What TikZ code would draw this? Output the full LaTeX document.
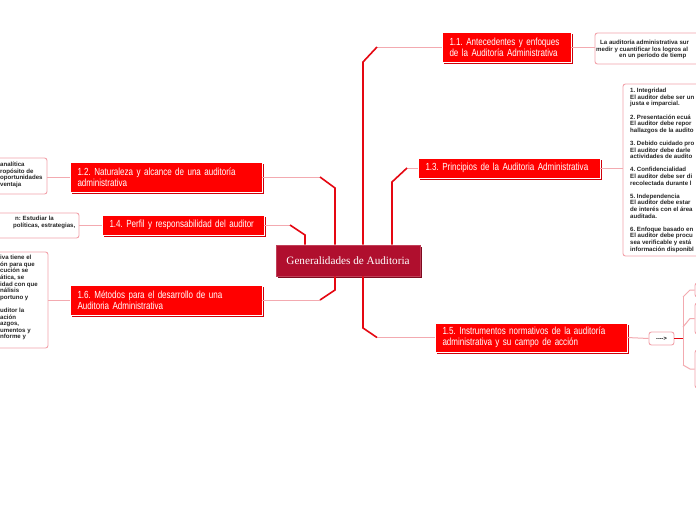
\documentclass[tikz,border=0pt]{standalone}
\usepackage{fontspec}
\setmainfont{Liberation Sans}
\newfontfamily\condfont[FakeStretch=0.78]{Liberation Sans}
\newfontfamily\leaffont{Liberation Sans}
\newfontfamily\genfont{Liberation Serif}
\usetikzlibrary{shadows}
\definecolor{nodered}{HTML}{FF0000}
\definecolor{shadowred}{HTML}{D0000A}
\definecolor{crimson}{HTML}{B00F2E}
\definecolor{crimsonshadow}{HTML}{7E0A1F}
\definecolor{linkpink}{HTML}{F3AAB0}
\definecolor{linkred}{HTML}{E50812}
\definecolor{leafborder}{HTML}{F2A2AA}
\begin{document}
\frenchspacing
\begin{tikzpicture}[x=1pt,y=-1pt,
  redbox/.style={fill=nodered, draw=white, line width=0.6pt, text=white,
    font=\condfont\frenchspacing\fontsize{10.3}{11}\selectfont, align=left,
    inner xsep=7.5pt, inner ysep=0pt,
    general shadow={fill=shadowred, shadow xshift=2pt, shadow yshift=-2pt}},
  genbox/.style={fill=crimson, draw=crimson!80!white, line width=0.6pt, text=white,
    minimum width=144pt, minimum height=31pt, inner sep=0pt,
    general shadow={fill=crimsonshadow, shadow xshift=1.5pt, shadow yshift=-1.5pt}},
  leafbox/.style={draw=leafborder, line width=0.9pt, fill=white,
    rounded corners=2.5pt, inner sep=0pt},
  leaftext/.style={font=\leaffont\bfseries\frenchspacing\fontsize{6.1}{6.6}\selectfont,
    align=left, inner sep=0pt, anchor=north west, text=black!85},
  pinklink/.style={draw=linkpink, line width=1pt},
  redlink/.style={draw=linkred, line width=1.6pt},
]
\useasboundingbox (0,0) rectangle (696,520);
\fill[white] (0,0) rectangle (696,520);
\clip (0,0) rectangle (696,520);

% central node
\node[genbox] (gen) at (348,260.5) {\genfont\fontsize{11.2}{13}\selectfont Generalidades de Auditoria};

% red topic nodes
\node[redbox, text width=114pt, minimum height=30pt] (n11) at (506.5,47)
  {\mbox{1.1. Antecedentes y enfoques}\\\mbox{de la Auditoría Administrativa}};
\node[redbox, text width=177pt, minimum height=30pt] (n12) at (166,177)
  {\mbox{1.2. Naturaleza y alcance de una auditoría}\\administrativa};
\node[redbox, text width=167pt, minimum height=20pt] (n13) at (509,168)
  {\mbox{1.3. Principios de la Auditoria Administrativa}};
\node[redbox, text width=147pt, minimum height=20pt] (n14) at (183,225)
  {\mbox{1.4. Perfil y responsabilidad del auditor}};
\node[redbox, text width=177pt, minimum height=29pt] (n15) at (531,337.5)
  {\mbox{1.5. Instrumentos normativos de la auditoría}\\\mbox{administrativa y su campo de acción}};
\node[redbox, text width=177pt, minimum height=30pt] (n16) at (166,300)
  {\mbox{1.6. Métodos para el desarrollo de una}\\\mbox{Auditoria Administrativa}};

% leaf boxes
\node[leafbox, minimum width=107pt, minimum height=36pt] (la) at (-6.5,176) {};
\node[leafbox, minimum width=139pt, minimum height=25pt] (lb) at (9.5,225.5) {};
\node[leafbox, minimum width=108pt, minimum height=96pt] (lc) at (-6,300) {};
\node[leafbox, minimum width=165pt, minimum height=31pt] (ld) at (677.5,48.5) {};
\node[leafbox, minimum width=137pt, minimum height=172pt] (le) at (691.5,170) {};
\node[leafbox, minimum width=65pt, minimum height=14pt] (f1) at (727.5,290) {};
\node[leafbox, minimum width=65pt, minimum height=31pt] (f2) at (727.5,318.5) {};
\node[leafbox, minimum width=65pt, minimum height=38pt] (f3) at (727.5,369) {};
\node[leafbox, minimum width=25pt, minimum height=13pt, font=\leaffont\bfseries\fontsize{5.6}{6.6}\selectfont] (sb) at (661.5,338.5) {---->};

% leaf texts
\node[leaftext] (ta) at (0,162) {analítica\\ropósito de\\oportunidades\\ventaja};
\node[leaftext] (tb) at (13,216) {\hspace*{2pt}n: Estudiar la\\políticas, estrategias,};
\node[leaftext] (tc) at (0,255) {iva tiene el\\ón para que\\cución se\\ática, se\\idad con que\\nálisis\\portuno y\\[6.6pt]uditor la\\ación\\azgos,\\umentos y\\nforme y};
\node[leaftext] (td) at (596,40) {\hspace*{4pt}La auditoría administrativa sur\\medir y cuantificar los logros al\\\hspace*{23pt}en un período de tiemp};
\node[leaftext] (te) at (630,88) {1. Integridad\\El auditor debe ser un\\justa e imparcial.\\[6.6pt]2. Presentación ecuá\\El auditor debe repor\\hallazgos de la audito\\[6.6pt]3. Debido cuidado pro\\El auditor debe darle\\actividades de audito\\[6.6pt]4. Confidencialidad\\El auditor debe ser di\\recolectada durante l\\[6.6pt]5. Independencia\\El auditor debe estar\\de interés con el área\\auditada.\\[6.6pt]6. Enfoque basado en\\El auditor debe procu\\sea verificable y está\\información disponibl};

% connector coordinates
\coordinate (c12a) at (320,177);
\coordinate (c12b) at (335,188);
\coordinate (c14a) at (290,225);
\coordinate (c14b) at (305,235);
\coordinate (c16a) at (320,300);
\coordinate (c16b) at (335,290);
\coordinate (c11a) at (377,47);
\coordinate (c11b) at (363,62);
\coordinate (c13a) at (407,168);
\coordinate (c13b) at (392,182);
\coordinate (c15a) at (377,337.5);
\coordinate (c15b) at (363,328);

% main connectors
\draw[pinklink] (n12.east) -- (c12a);
\draw[redlink] (c12a) -- (c12b) -- (c12b |- gen.north);
\draw[pinklink] (n14.east) -- (c14a);
\draw[redlink] (c14a) -- (c14b) -- (c14b |- gen.north);
\draw[pinklink] (n16.east) -- (c16a);
\draw[redlink] (c16a) -- (c16b) -- (c16b |- gen.south);
\draw[pinklink] (n11.west) -- (c11a);
\draw[redlink] (c11a) -- (c11b) -- (c11b |- gen.north);
\draw[pinklink] (n13.west) -- (c13a);
\draw[redlink] (c13a) -- (c13b) -- (c13b |- gen.north);
\draw[pinklink] (n15.west) -- (c15a);
\draw[redlink] (c15a) -- (c15b) -- (c15b |- gen.south);

% leaf connectors
\draw[pinklink] (n12.west) -- (la.east |- n12.west);
\draw[pinklink] (n14.west) -- (lb.east |- n14.west);
\draw[pinklink] (n16.west) -- (lc.east |- n16.west);
\draw[pinklink] (n11.east) -- (ld.west |- n11.east);
\draw[pinklink] (n13.east) -- (le.west |- n13.east);
\draw[pinklink] (n15.east) -- (sb.west);

% fan-out after small box
\coordinate (jn) at (683,338.5);
\coordinate (t1) at (683,297);
\coordinate (t2) at (683,327);
\coordinate (t3) at (683,365);
\coordinate (b1) at (690,290);
\coordinate (b2) at (690,318.5);
\coordinate (b3) at (690,369);
\draw[pinklink] (t1) -- (t3);
\draw[pinklink] (t1) -- (b1) -- (f1.west);
\draw[pinklink] (t2) -- (b2) -- (f2.west);
\draw[pinklink] (t3) -- (b3) -- (f3.west);
\draw[redlink] (sb.east) -- (jn);
\end{tikzpicture}
\end{document}
